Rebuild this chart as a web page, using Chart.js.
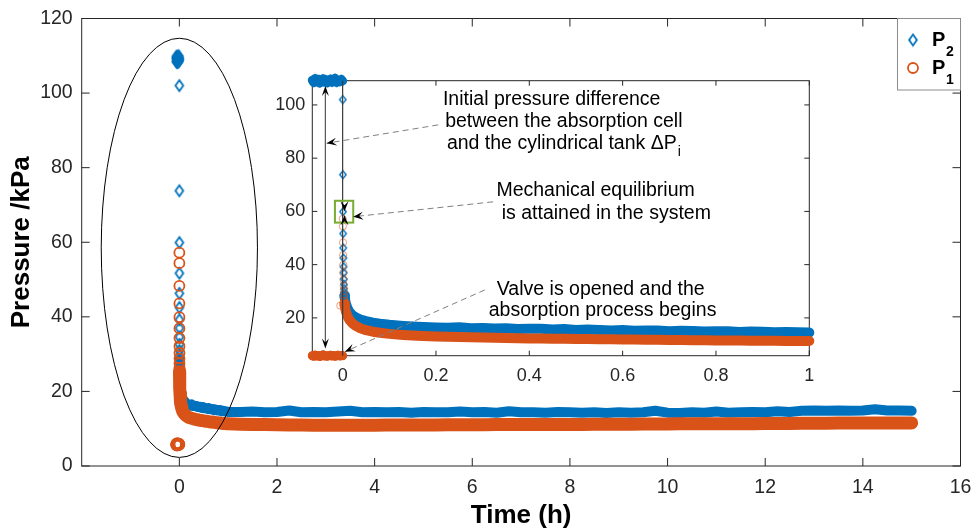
<!DOCTYPE html>
<html>
<head>
<meta charset="utf-8">
<title>Pressure vs time</title>
<script src="https://cdn.jsdelivr.net/npm/chart.js@4.4.1/dist/chart.umd.min.js"></script>
<style>
  html, body { margin: 0; padding: 0; background: #fff; }
  #wrap { position: relative; width: 973px; height: 529px; overflow: hidden; }
  #main { position: absolute; left: 0; top: 0; }
  #inset { position: absolute; left: 262px; top: 70px; }
</style>
</head>
<body>
<div id="wrap">
  <canvas id="main" width="973" height="529"></canvas>
  <canvas id="inset" width="562" height="325"></canvas>
</div>
<script>
// ── Data (time in h, pressure in kPa) ────────────────────────────────────────
// before the valve opens
const preTime = [-0.065, -0.062, -0.059, -0.056, -0.052, -0.049, -0.046, -0.042, -0.039, -0.036, -0.033,
                 -0.029, -0.026, -0.023, -0.019, -0.016, -0.013, -0.010, -0.006, -0.003, 0];
const p2Pre = [109.3, 108.4, 109.9, 108.7, 109.6, 108.2, 109.1, 109.8, 108.6, 109.5, 108.3,
               109.0, 109.7, 108.5, 109.3, 110.0, 108.4, 109.2, 108.8, 109.6, 109.0];
const p1Pre = [5.8, 5.6, 6.0, 5.7, 5.9, 5.5, 5.8, 6.1, 5.7, 5.9, 5.6,
               5.8, 6.0, 5.7, 5.9, 5.6, 5.8, 6.0, 5.7, 5.9, 5.8];

// first seconds after opening
const jumpTime = [0.0003, 0.0006, 0.0008, 0.0011, 0.0014, 0.0017, 0.0019, 0.0022, 0.0025, 0.0028, 0.0031, 0.0033, 0.0036];
const p2Jump = [102.0, 73.8, 59.9, 51.7, 46.3, 42.5, 39.2, 37.0, 34.6, 32.6, 31.0, 29.6, 28.4];
const p1Jump = [57.2, 54.4, 48.3, 43.6, 39.9, 36.9, 34.3, 32.1, 30.3, 28.8, 27.5, 26.4, 25.4];
const strayTime = [-0.005];
const p1Stray = [24.6];

// absorption run
const bandTime = [
  0.0036, 0.005, 0.007, 0.01, 0.014, 0.02, 0.028, 0.038, 0.05, 0.065, 0.08, 0.1, 0.13, 0.16,
  0.2, 0.225, 0.25, 0.275, 0.3, 0.325, 0.35, 0.375, 0.4, 0.425, 0.45, 0.475, 0.5, 0.525, 0.55, 0.575,
  0.6, 0.625, 0.65, 0.675, 0.7, 0.725, 0.75, 0.775, 0.8, 0.825, 0.85, 0.875, 0.9, 0.925, 0.95, 0.975, 1.0,
  1.25, 1.5, 1.75, 2, 2.25, 2.5, 2.75, 3, 3.25, 3.5, 3.75, 4, 4.25, 4.5, 4.75, 5, 5.25, 5.5, 5.75, 6,
  6.25, 6.5, 6.75, 7, 7.25, 7.5, 7.75, 8, 8.25, 8.5, 8.75, 9, 9.25, 9.5, 9.75, 10, 10.25, 10.5, 10.75, 11,
  11.25, 11.5, 11.75, 12, 12.25, 12.5, 12.75, 13, 13.25, 13.5, 13.75, 14, 14.25, 14.5, 14.75, 15
];
const p2Band = [
  28.4, 27.0, 25.4, 23.8, 22.4, 21.2, 20.2, 19.4, 18.8, 18.2, 17.8, 17.4, 17.0, 16.7,
  16.4, 16.3, 16.5, 16.1, 16.2, 16.0, 16.1, 15.8, 15.9, 15.9, 15.6, 15.8, 15.5, 15.6, 15.5, 15.3,
  15.5, 15.2, 15.3, 15.3, 15.0, 15.2, 15.1, 14.9, 15.0, 15.0, 14.7, 14.9, 14.8, 14.6, 14.7, 14.6, 14.5,
  14.5, 14.6, 14.4, 14.5, 14.9, 14.4, 14.5, 14.4, 14.6, 14.8, 14.4, 14.5, 14.4, 14.5, 14.3, 14.5,
  14.4, 14.4, 14.6, 14.4, 14.5, 14.3, 14.7, 14.4, 14.4, 14.3, 14.5, 14.4, 14.3, 14.4, 14.2, 14.4,
  14.3, 14.4, 14.8, 14.3, 14.2, 14.4, 14.3, 14.6, 14.3, 14.4, 14.5, 14.4, 14.7, 14.5, 14.8, 14.9,
  14.8, 14.9, 14.8, 14.9, 15.2, 14.9, 14.9, 14.8
];
const p1Band = [
  25.4, 24.0, 22.4, 20.8, 19.4, 18.1, 17.0, 16.1, 15.4, 14.8, 14.4, 14.0, 13.6, 13.3,
  13.0, 12.9, 12.8, 12.7, 12.6, 12.5, 12.45, 12.4, 12.3, 12.25, 12.2, 12.15, 12.1, 12.05, 12.0, 11.95,
  11.9, 11.85, 11.8, 11.75, 11.7, 11.7, 11.65, 11.6, 11.55, 11.5, 11.5, 11.45, 11.4, 11.4, 11.35, 11.3, 11.3,
  11.2, 11.15, 11.1, 11.05, 11.0, 11.0, 10.95, 10.95, 10.95, 10.95, 10.95, 10.95,
  11.0, 11.0, 11.0, 11.0, 11.0, 11.05, 11.05, 11.05, 11.05, 11.1, 11.1, 11.1,
  11.1, 11.15, 11.15, 11.15, 11.15, 11.2, 11.2, 11.2, 11.2, 11.25, 11.25, 11.25,
  11.3, 11.3, 11.3, 11.3, 11.35, 11.35, 11.35, 11.4, 11.4, 11.4, 11.45, 11.45,
  11.45, 11.5, 11.5, 11.5, 11.5, 11.55, 11.55, 11.55
];

const mainXTicks = [0, 2, 4, 6, 8, 10, 12, 14, 16];
const mainYTicks = [0, 20, 40, 60, 80, 100, 120];
const insetXTicks = [0, 0.2, 0.4, 0.6, 0.8, 1];
const insetYTicks = [20, 40, 60, 80, 100];

// ── Style ────────────────────────────────────────────────────────────────────
const BLUE = '#0072BD';
const ORANGE = '#D95319';
const AXIS = '#262626';
const FONT = "'Liberation Sans', Arial, Helvetica, sans-serif";

const pts = (xs, ys, maxX = Infinity) =>
  xs.map((x, i) => ({ x, y: ys[i] })).filter(p => p.x <= maxX);

// MATLAB-like diamond marker (a bit taller than wide)
function diamond(w, h, lw, color) {
  const c = document.createElement('canvas');
  c.width = Math.ceil(w + lw + 2);
  c.height = Math.ceil(h + lw + 2);
  const g = c.getContext('2d');
  const cx = c.width / 2, cy = c.height / 2;
  g.strokeStyle = color;
  g.lineWidth = lw;
  g.beginPath();
  g.moveTo(cx, cy - h / 2);
  g.lineTo(cx + w / 2, cy);
  g.lineTo(cx, cy + h / 2);
  g.lineTo(cx - w / 2, cy);
  g.closePath();
  g.stroke();
  return c;
}
const bigDiamond = diamond(7.8, 11, 1.8, BLUE);
const smallDiamond = diamond(6.4, 7.8, 1.4, BLUE);

function arrowHead(ctx, x0, y0, x1, y1, len, wid) {
  const ang = Math.atan2(y1 - y0, x1 - x0);
  ctx.save();
  ctx.translate(x1, y1);
  ctx.rotate(ang);
  ctx.beginPath();
  ctx.moveTo(0, 0);
  ctx.lineTo(-len, -wid / 2);
  ctx.lineTo(-len * 0.6, 0);
  ctx.lineTo(-len, wid / 2);
  ctx.closePath();
  ctx.fill();
  ctx.restore();
}

// ── Shared plugins ───────────────────────────────────────────────────────────
const whiteBg = {
  id: 'whiteBg',
  beforeDraw(chart) {
    const { ctx, width, height } = chart;
    ctx.save();
    ctx.fillStyle = '#fff';
    ctx.fillRect(0, 0, width, height);
    ctx.restore();
  }
};

// box with inward ticks on all four sides
const frame = {
  id: 'frame',
  beforeDatasetsDraw(chart, args, opts) {
    const { ctx, chartArea: a, scales: { x, y } } = chart;
    const len = opts.tickLength;
    ctx.save();
    ctx.strokeStyle = AXIS;
    ctx.lineWidth = 1;
    ctx.beginPath();
    x.ticks.forEach(t => {
      const px = x.getPixelForValue(t.value);
      ctx.moveTo(px, a.bottom); ctx.lineTo(px, a.bottom - len);
      ctx.moveTo(px, a.top); ctx.lineTo(px, a.top + len);
    });
    y.ticks.forEach(t => {
      const py = y.getPixelForValue(t.value);
      ctx.moveTo(a.left, py); ctx.lineTo(a.left + len, py);
      ctx.moveTo(a.right, py); ctx.lineTo(a.right - len, py);
    });
    ctx.stroke();
    ctx.strokeRect(a.left, a.top, a.right - a.left, a.bottom - a.top);
    ctx.restore();
  }
};

function lineSet(data, color, width, order) {
  return {
    data, order, showLine: true, clip: false,
    borderColor: color, borderWidth: width,
    borderCapStyle: 'round', borderJoinStyle: 'round',
    pointRadius: 0, pointHoverRadius: 0
  };
}
function diamondSet(data, img, order) {
  return { data, order, clip: false, pointStyle: img, pointRadius: 5, pointHoverRadius: 5 };
}
function circleSet(data, color, r, lw, order) {
  return {
    data, order, clip: false, pointStyle: 'circle', pointRadius: r, pointHoverRadius: r,
    borderColor: color, borderWidth: lw, backgroundColor: 'rgba(0,0,0,0)'
  };
}

// fixed-size axis: the label overflow padding is dropped so the plot box
// lands exactly where the layout padding puts it
function axisOpts(min, max, ticks, fontSize, padding, size, horizontal) {
  return {
    type: 'linear', min, max,
    afterBuildTicks: s => { s.ticks = ticks.map(v => ({ value: v })); },
    afterFit: s => {
      if (horizontal) s.height = size; else s.width = size;
      s.paddingLeft = s.paddingRight = s.paddingTop = s.paddingBottom = 0;
    },
    grid: { display: false, drawTicks: false },
    border: { display: false },
    ticks: {
      color: AXIS, padding, autoSkip: false, maxRotation: 0,
      font: { family: FONT, size: fontSize },
      callback: v => String(v)
    }
  };
}

// ── Main chart ───────────────────────────────────────────────────────────────
const mainNotes = {
  id: 'mainNotes',
  afterDatasetsDraw(chart) {
    const { ctx, scales: { x, y } } = chart;
    // ellipse round the start-up transient
    const cx = x.getPixelForValue(0), cy = y.getPixelForValue(58.5);
    const rx = x.getPixelForValue(1.6) - cx, ry = cy - y.getPixelForValue(58.5 + 56.2);
    ctx.save();
    ctx.strokeStyle = '#000';
    ctx.lineWidth = 1;
    ctx.beginPath();
    ctx.ellipse(cx, cy, rx, ry, 0, 0, Math.PI * 2);
    ctx.stroke();
    ctx.restore();
  },
  afterDraw(chart) {
    const { ctx, chartArea: a } = chart;
    // legend box in the upper right corner
    const lx = 897.5, ly = a.top, lw = a.right - 897.5, lh = 90 - a.top;
    ctx.save();
    ctx.fillStyle = '#fff';
    ctx.fillRect(lx, ly, lw, lh);
    ctx.strokeStyle = '#8c8c8c';
    ctx.lineWidth = 1;
    ctx.strokeRect(lx, ly, lw, lh);
    ctx.drawImage(bigDiamond, 913 - bigDiamond.width / 2, 40 - bigDiamond.height / 2);
    ctx.strokeStyle = ORANGE;
    ctx.lineWidth = 1.8;
    ctx.beginPath();
    ctx.arc(913, 68, 5, 0, Math.PI * 2);
    ctx.stroke();
    ctx.fillStyle = '#000';
    ctx.textBaseline = 'alphabetic';
    ctx.font = `bold 20px ${FONT}`;
    ctx.fillText('P', 932, 46);
    ctx.fillText('P', 932, 74);
    ctx.font = `bold 14px ${FONT}`;
    ctx.fillText('2', 946, 56);
    ctx.fillText('1', 946, 84);
    ctx.restore();
  }
};

new Chart(document.getElementById('main'), {
  type: 'scatter',
  data: {
    datasets: [
      lineSet(pts(bandTime, p2Band), BLUE, 10, 6),
      lineSet(pts(bandTime, p1Band), ORANGE, 13, 5),
      diamondSet(pts(preTime, p2Pre), bigDiamond, 4),
      diamondSet(pts(jumpTime, p2Jump), bigDiamond, 3),
      circleSet(pts(preTime, p1Pre), ORANGE, 5, 1.8, 2),
      circleSet(pts(jumpTime, p1Jump), ORANGE, 5, 1.8, 1),
      circleSet(pts(strayTime, p1Stray), ORANGE, 5, 1.8, 1)
    ]
  },
  options: {
    responsive: false,
    animation: false,
    events: [],
    layout: { padding: { left: 0, top: 18.5, right: 12.5, bottom: 0 } },
    plugins: {
      legend: { display: false },
      tooltip: { enabled: false },
      frame: { tickLength: 8 }
    },
    scales: {
      x: {
        ...axisOpts(-2, 16, mainXTicks, 19.5, 9.5, 63, true),
        title: {
          display: true, text: 'Time (h)', color: '#000',
          font: { family: FONT, size: 26, weight: 'bold', lineHeight: 1 },
          padding: { top: 0, bottom: 0 }
        }
      },
      y: {
        ...axisOpts(0, 120, mainYTicks, 19.5, 9, 81.7, false),
        title: {
          display: true, text: 'Pressure /kPa', color: '#000',
          font: { family: FONT, size: 26, weight: 'bold', lineHeight: 1 },
          padding: { top: 9, bottom: 0 }
        }
      }
    }
  },
  plugins: [whiteBg, frame, mainNotes]
});

// ── Inset: first hour ────────────────────────────────────────────────────────
const insetText = [
  { text: 'Initial pressure difference', x: 0.448, y: 102.1 },
  { text: 'between the absorption cell', x: 0.474, y: 93.7 },
  { text: 'and the cylindrical tank \u0394P', sub: 'i', x: 0.473, y: 85.6 },
  { text: 'Mechanical equilibrium', x: 0.542, y: 67.8 },
  { text: 'is attained in the system', x: 0.565, y: 59.3 },
  { text: 'Valve is opened and the', x: 0.553, y: 30.8 },
  { text: 'absorption process begins', x: 0.557, y: 22.7 }
];
const dashedArrows = [
  { from: [0.2047, 92.5], to: [-0.0343, 85.6] },
  { from: [0.3225, 63.6], to: [0.0227, 58.0] },
  { from: [0.3047, 30.5], to: [0.0049, 7.3] }
];

const insetNotes = {
  id: 'insetNotes',
  afterDatasetsDraw(chart) {
    const { ctx, scales: { x, y } } = chart;
    const X = v => x.getPixelForValue(v), Y = v => y.getPixelForValue(v);
    ctx.save();

    // vertical line at the valve opening
    ctx.strokeStyle = '#3a3a3a';
    ctx.lineWidth = 1.2;
    ctx.beginPath();
    ctx.moveTo(X(0), Y(109.1));
    ctx.lineTo(X(0), Y(5.8));
    ctx.stroke();

    // double arrow spanning the initial difference
    const ax = X(-0.037);
    ctx.strokeStyle = '#555';
    ctx.beginPath();
    ctx.moveTo(ax, Y(107.1) + 4);
    ctx.lineTo(ax, Y(8.5) - 4);
    ctx.stroke();
    ctx.fillStyle = '#000';
    arrowHead(ctx, ax, Y(90), ax, Y(107.1), 10, 7);
    arrowHead(ctx, ax, Y(30), ax, Y(8.5), 10, 7);

    // green box round the equilibrium point
    ctx.strokeStyle = '#77AC30';
    ctx.lineWidth = 2;
    ctx.strokeRect(X(-0.0165), Y(64.0), X(0.0227) - X(-0.0165), Y(55.8) - Y(64.0));
    const gx = X(0.004);
    arrowHead(ctx, gx, Y(64.5), gx, Y(60.1), 10, 8);
    arrowHead(ctx, gx, Y(55.3), gx, Y(58.6), 10, 8);

    // dashed pointers from the notes
    dashedArrows.forEach(a => {
      const x0 = X(a.from[0]), y0 = Y(a.from[1]), x1 = X(a.to[0]), y1 = Y(a.to[1]);
      ctx.strokeStyle = '#808080';
      ctx.lineWidth = 1;
      ctx.setLineDash([6, 4]);
      ctx.beginPath();
      ctx.moveTo(x0, y0);
      ctx.lineTo(x1, y1);
      ctx.stroke();
      ctx.setLineDash([]);
      ctx.fillStyle = '#000';
      arrowHead(ctx, x0, y0, x1, y1, 10, 8);
    });

    // notes
    ctx.fillStyle = '#000';
    ctx.textBaseline = 'middle';
    ctx.textAlign = 'left';
    insetText.forEach(t => {
      ctx.font = `19.5px ${FONT}`;
      const w = ctx.measureText(t.text).width;
      let sw = 0;
      if (t.sub) {
        ctx.font = `14px ${FONT}`;
        sw = ctx.measureText(t.sub).width;
      }
      const left = X(t.x) - (w + sw) / 2;
      ctx.font = `19.5px ${FONT}`;
      ctx.fillText(t.text, left, Y(t.y));
      if (t.sub) {
        ctx.font = `14px ${FONT}`;
        ctx.fillText(t.sub, left + w + 1, Y(t.y) + 9);
      }
    });
    ctx.restore();
  }
};

const faintOrange = 'rgba(217,83,25,0.55)';

new Chart(document.getElementById('inset'), {
  type: 'scatter',
  data: {
    datasets: [
      lineSet(pts(bandTime, p2Band, 1), BLUE, 10, 8),
      lineSet(pts(bandTime, p1Band, 1), ORANGE, 10, 7),
      lineSet(pts(preTime, p2Pre), BLUE, 9, 6),
      lineSet(pts(preTime, p1Pre), ORANGE, 9, 5),
      diamondSet(pts(preTime, p2Pre), smallDiamond, 4),
      diamondSet(pts(jumpTime, p2Jump), smallDiamond, 3),
      circleSet(pts(preTime, p1Pre), ORANGE, 3.6, 1.4, 2),
      circleSet(pts(jumpTime, p1Jump), faintOrange, 3.6, 1, 1),
      circleSet(pts(strayTime, p1Stray), faintOrange, 3.6, 1, 1)
    ]
  },
  options: {
    responsive: false,
    animation: false,
    events: [],
    layout: { padding: { left: 0, top: 10.7, right: 14.7, bottom: 0 } },
    plugins: {
      legend: { display: false },
      tooltip: { enabled: false },
      frame: { tickLength: 5 }
    },
    scales: {
      x: axisOpts(-0.065, 1, insetXTicks, 18, 10, 39.3, true),
      y: axisOpts(5.8, 109.1, insetYTicks, 18, 7, 50.3, false)
    }
  },
  plugins: [whiteBg, frame, insetNotes]
});
</script>
</body>
</html>
